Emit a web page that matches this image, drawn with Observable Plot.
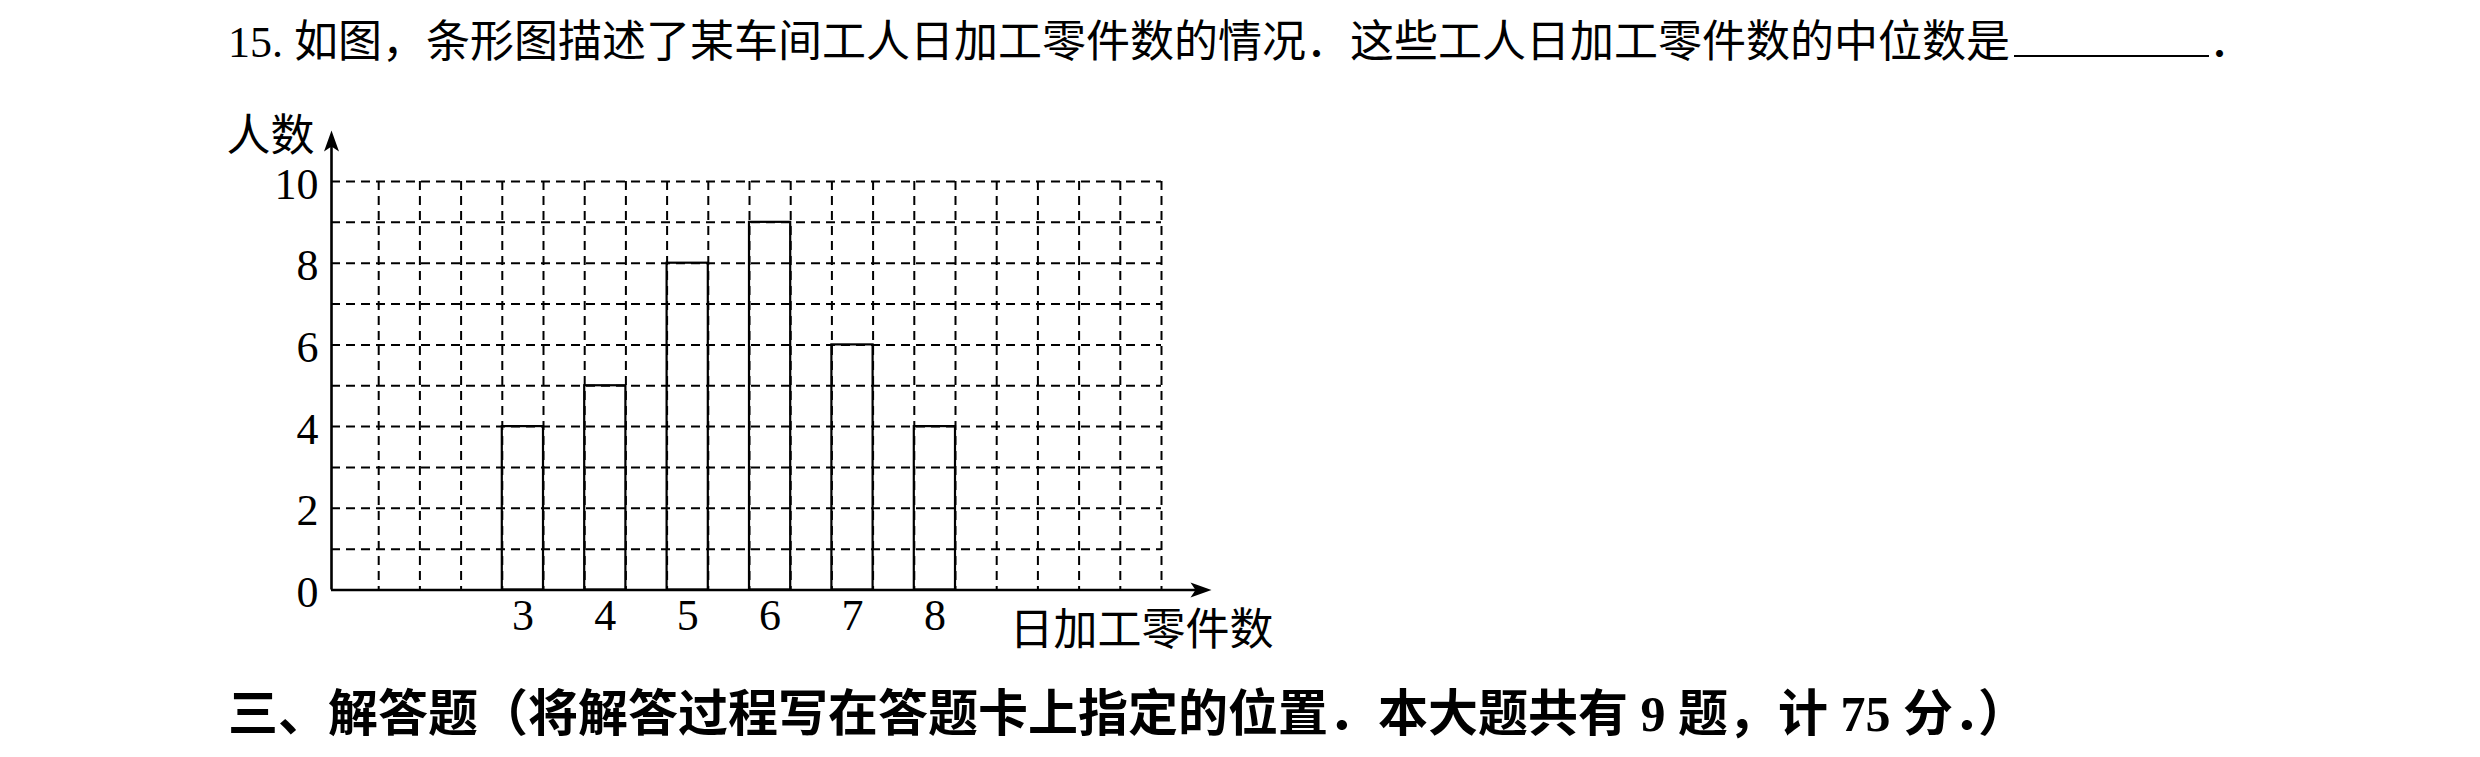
<!DOCTYPE html>
<html>
<head>
<meta charset="utf-8">
<script src="https://cdn.jsdelivr.net/npm/d3@7"></script>
<script src="https://cdn.jsdelivr.net/npm/@observablehq/plot@0.6"></script>
<style>
  html, body { margin: 0; padding: 0; background: #fff; width: 2480px; height: 757px; overflow: hidden; }
  .txt { position: absolute; white-space: pre; color: #000; font-family: 'Liberation Serif', 'Noto Sans CJK SC', serif; line-height: 1; }
  #title { left: 228px; top: 15px; font-size: 44px; }
  #title .blank { display: inline-block; width: 195px; height: 40px; border-bottom: 2px solid #000; margin-left: 4px; vertical-align: baseline; }
  #chart { position: absolute; left: 0; top: 90px; }
  #footer { left: 228px; top: 689px; font-size: 50px; font-weight: bold; }
</style>
</head>
<body>
<div id="title" class="txt"></div>
<div id="chart"></div>
<div id="footer" class="txt"></div>
<script>
// ---- data ----
const categories = [3, 4, 5, 6, 7, 8];          // 日加工零件数
const counts = [4, 5, 8, 9, 6, 4];              // 人数
const yTicks = [0, 2, 4, 6, 8, 10];
const xDomain = [1, 11];                        // grid extent (category units, 2 cells per unit)
const yDomain = [0, 10];
const yLabel = "人数";
const xLabel = "日加工零件数";
const titleNum = "15.";
const titleText = "如图，条形图描述了某车间工人日加工零件数的情况．这些工人日加工零件数的中位数是";
const titleEnd = "．";
const footerText = "三、解答题（将解答过程写在答题卡上指定的位置．本大题共有 9 题，计 75 分．）";

const data = categories.map((c, i) => ({cat: c, count: counts[i]}));
const xGrid = d3.range(xDomain[0] + 0.5, xDomain[1] + 0.001, 0.5);
const yGrid = d3.range(yDomain[0] + 1, yDomain[1] + 0.001, 1);

// filled arrowhead symbol (apex at origin, pointing up)
const arrowHead = {
  draw(ctx) {
    ctx.moveTo(0, 0);
    ctx.lineTo(7.5, 21);
    ctx.lineTo(0, 16);
    ctx.lineTo(-7.5, 21);
    ctx.closePath();
  }
};

const dash = "9,6";
const chart = Plot.plot({
  width: 1300,
  height: 580,
  marginLeft: 337,
  marginRight: 139,
  marginTop: 91,
  marginBottom: 80.5,
  x: {domain: xDomain, axis: null},
  y: {domain: yDomain, axis: null},
  style: {fontFamily: "'Liberation Serif', 'Noto Sans CJK SC', serif", background: "white", color: "black", overflow: "visible"},
  marks: [
    // dashed grid
    Plot.ruleX(xGrid, {y1: yDomain[1], y2: yDomain[0], stroke: "black", strokeWidth: 2, strokeDasharray: dash}),
    Plot.ruleY(yGrid, {x1: xDomain[0], x2: xDomain[1], insetLeft: -6, stroke: "black", strokeWidth: 2, strokeDasharray: dash}),
    // bars (outline only)
    Plot.rect(data, {x1: "cat", x2: d => d.cat + 0.5, y1: 0, y2: "count", fill: "none", stroke: "black", strokeWidth: 2.2}),
    // axes with arrows
    Plot.ruleX([xDomain[0]], {y1: yDomain[1], y2: yDomain[0], dx: -6, insetTop: -42, stroke: "black", strokeWidth: 2.6}),
    Plot.ruleY([yDomain[0]], {x1: xDomain[0], x2: xDomain[1], insetLeft: -6, insetRight: -42, stroke: "black", strokeWidth: 2.6}),
    Plot.dot([{x: xDomain[0], y: yDomain[1]}], {x: "x", y: "y", symbol: arrowHead, fill: "black", stroke: "none", dx: -6, dy: -51}),
    Plot.dot([{x: xDomain[1], y: yDomain[0]}], {x: "x", y: "y", symbol: arrowHead, rotate: 90, fill: "black", stroke: "none", dx: 50}),
    // tick labels
    Plot.text(yTicks, {x: xDomain[0], y: d => d, text: d => String(d), textAnchor: "end", dx: -19, dy: 3, fontSize: 44}),
    Plot.text(data, {x: d => d.cat + 0.25, y: 0, text: d => String(d.cat), lineAnchor: "top", dy: 9, fontSize: 44}),
    // axis titles
    Plot.text([yLabel], {x: xDomain[0], y: yDomain[1], text: d => d, textAnchor: "end", lineAnchor: "bottom", dx: -23, dy: -31, fontSize: 44}),
    Plot.text([xLabel], {x: xDomain[1], y: yDomain[0], text: d => d, textAnchor: "start", lineAnchor: "bottom", dx: -152, dy: 55, fontSize: 44})
  ]
});
document.getElementById("chart").appendChild(chart);

const t = document.getElementById("title");
t.textContent = titleNum + " " + titleText;
const blank = document.createElement("span");
blank.className = "blank";
t.appendChild(blank);
t.appendChild(document.createTextNode(titleEnd));
document.getElementById("footer").textContent = footerText;
</script>
</body>
</html>
